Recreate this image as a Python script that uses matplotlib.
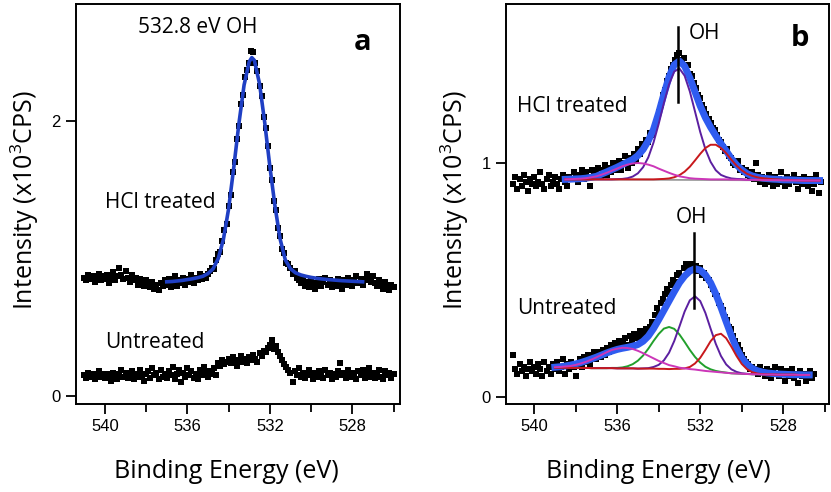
import numpy as np
import matplotlib.pyplot as plt

plt.rcParams['font.family'] = ['Open Sans', 'DejaVu Sans']
plt.rcParams['mathtext.fontset'] = 'custom'
plt.rcParams['mathtext.rm'] = 'Open Sans'
plt.rcParams['mathtext.it'] = 'Open Sans:italic'

# ---- O 1s spectra, 0.1 eV steps starting at 541.0 eV (descending) ----
step = 0.1
a_start = 541.0
a_hcl = [0.86, 0.84, 0.88, 0.85, 0.87, 0.83, 0.86, 0.89, 0.84, 0.87,
         0.85, 0.88, 0.82, 0.86, 0.90, 0.84, 0.87, 0.93, 0.88, 0.85,
         0.91, 0.86, 0.83, 0.88, 0.84, 0.86, 0.81, 0.85, 0.83, 0.80,
         0.84, 0.82, 0.79, 0.83, 0.78, 0.81, 0.77, 0.82, 0.80, 0.84,
         0.81, 0.85, 0.79, 0.83, 0.87, 0.80, 0.84, 0.82, 0.86, 0.81,
         0.85, 0.83, 0.88, 0.82, 0.86, 0.84, 0.89, 0.85, 0.87, 0.86,
         0.89, 0.91, 0.93, 0.92, 0.99, 1.03, 1.05, 1.13, 1.21, 1.25,
         1.38, 1.46, 1.63, 1.70, 1.87, 1.96, 2.12, 2.19, 2.32, 2.37,
         2.42, 2.51, 2.50, 2.42, 2.36, 2.25, 2.18, 2.03, 1.95, 1.82,
         1.66, 1.57, 1.42, 1.35, 1.22, 1.16, 1.07, 1.04, 0.97, 0.96,
         0.93, 0.89, 0.91, 0.86, 0.84, 0.82, 0.85, 0.80, 0.83, 0.79,
         0.84, 0.81, 0.78, 0.82, 0.85, 0.80, 0.83, 0.86, 0.81, 0.84,
         0.79, 0.83, 0.80, 0.85, 0.82, 0.78, 0.84, 0.81, 0.86, 0.83,
         0.80, 0.84, 0.87, 0.82, 0.85, 0.81, 0.84, 0.89, 0.86, 0.83,
         0.87, 0.82, 0.80, 0.84, 0.81, 0.78, 0.83, 0.80, 0.77, 0.81,
         0.79]
a_untr = [0.15, 0.13, 0.17, 0.14, 0.16, 0.12, 0.15, 0.18, 0.14, 0.16,
          0.13, 0.16, 0.14, 0.11, 0.17, 0.15, 0.12, 0.16, 0.19, 0.14,
          0.17, 0.13, 0.15, 0.18, 0.12, 0.16, 0.14, 0.19, 0.15, 0.11,
          0.16, 0.18, 0.13, 0.20, 0.15, 0.17, 0.12, 0.19, 0.14, 0.16,
          0.13, 0.18, 0.15, 0.21, 0.12, 0.16, 0.19, 0.10, 0.17, 0.14,
          0.20, 0.15, 0.18, 0.13, 0.16, 0.12, 0.19, 0.15, 0.21, 0.17,
          0.14, 0.18, 0.16, 0.20, 0.15, 0.24, 0.22, 0.26, 0.23, 0.25,
          0.27, 0.24, 0.28, 0.25, 0.22, 0.26, 0.29, 0.25, 0.27, 0.24,
          0.28, 0.26, 0.30, 0.27, 0.25, 0.31, 0.29, 0.33, 0.32, 0.35,
          0.37, 0.41, 0.34, 0.36, 0.32, 0.29, 0.26, 0.23, 0.21, 0.19,
          0.17, 0.10, 0.18, 0.15, 0.20, 0.14, 0.17, 0.13, 0.16, 0.19,
          0.15, 0.12, 0.17, 0.14, 0.18, 0.16, 0.13, 0.19, 0.15, 0.17,
          0.12, 0.16, 0.14, 0.18, 0.24, 0.15, 0.17, 0.13, 0.19, 0.16,
          0.14, 0.17, 0.12, 0.18, 0.15, 0.19, 0.13, 0.16, 0.20, 0.14,
          0.17, 0.13, 0.16, 0.19, 0.14, 0.12, 0.18, 0.15, 0.17, 0.13,
          0.16]

b_start = 541.0
b_hcl = [0.91, 0.94, 0.89, 0.93, 0.90, 0.95, 0.92, 0.88, 0.93, 0.91,
         0.94, 0.90, 0.92, 0.96, 0.91, 0.89, 0.93, 0.95, 0.90, 0.92,
         0.94, 0.91, 0.89, 0.93, 0.95, 0.92, 0.90, 0.94, 0.93, 0.96,
         0.94, 0.92, 0.95, 0.97, 0.93, 0.96, 0.94, 0.90, 0.97, 0.95,
         0.96, 0.98, 0.94, 0.97, 0.99, 0.95, 0.98, 0.96, 1.00, 0.97,
         0.99, 1.01, 0.97, 1.00, 1.03, 0.98, 1.02, 1.00, 1.04, 1.01,
         1.06, 1.04, 1.08, 1.07, 1.10, 1.09, 1.13, 1.12, 1.16, 1.19,
         1.22, 1.25, 1.29, 1.31, 1.35, 1.37, 1.40, 1.42, 1.44, 1.46,
         1.47, 1.44, 1.45, 1.41, 1.42, 1.38, 1.37, 1.34, 1.32, 1.29,
         1.28, 1.25, 1.23, 1.21, 1.19, 1.17, 1.15, 1.14, 1.12, 1.10,
         1.09, 1.07, 1.05, 1.06, 1.03, 1.02, 1.00, 0.99, 1.01, 0.97,
         0.98, 0.96, 0.97, 0.95, 0.94, 0.96, 0.93, 1.00, 0.95, 0.92,
         0.94, 0.91, 0.93, 0.95, 0.92, 0.90, 0.94, 0.91, 0.93, 0.96,
         0.92, 0.90, 0.94, 0.91, 0.93, 0.95, 0.92, 0.89, 0.93, 0.91,
         0.94, 0.92, 0.90, 0.93, 0.88, 0.91, 0.95, 0.87, 0.92]
b_untr = [0.18, 0.12, 0.10, 0.14, 0.11, 0.13, 0.09, 0.12, 0.15, 0.11,
          0.13, 0.10, 0.14, 0.12, 0.09, 0.15, 0.11, 0.13, 0.10, 0.14,
          0.12, 0.15, 0.11, 0.13, 0.16, 0.10, 0.14, 0.12, 0.15, 0.13,
          0.09, 0.14, 0.16, 0.13, 0.17, 0.15, 0.18, 0.14, 0.17, 0.19,
          0.16, 0.19, 0.17, 0.20, 0.18, 0.21, 0.19, 0.22, 0.20, 0.23,
          0.21, 0.24, 0.22, 0.23, 0.25, 0.22, 0.26, 0.24, 0.27, 0.25,
          0.26, 0.28, 0.25, 0.27, 0.29, 0.28, 0.30, 0.32, 0.35, 0.38,
          0.36, 0.40, 0.42, 0.44, 0.46, 0.45, 0.48, 0.50, 0.49, 0.52,
          0.53, 0.51, 0.55, 0.57, 0.54, 0.56, 0.57, 0.55, 0.56, 0.54,
          0.55, 0.52, 0.53, 0.51, 0.50, 0.48, 0.46, 0.44, 0.43, 0.40,
          0.39, 0.37, 0.34, 0.33, 0.30, 0.29, 0.26, 0.24, 0.22, 0.20,
          0.18, 0.16, 0.15, 0.14, 0.12, 0.13, 0.11, 0.12, 0.10, 0.13,
          0.11, 0.09, 0.12, 0.10, 0.08, 0.11, 0.13, 0.10, 0.09, 0.12,
          0.10, 0.07, 0.11, 0.09, 0.12, 0.08, 0.10, 0.06, 0.11, 0.09,
          0.10, 0.07, 0.09, 0.11, 0.08, 0.10]

# ---- fitted curves ----
fit_a_x = [537.0, 536.75, 536.5, 536.25, 536.0, 535.75, 535.5, 535.25, 535.0, 534.75,
           534.5, 534.25, 534.0, 533.75, 533.5, 533.25, 533.0, 532.875, 532.75, 532.5,
           532.25, 532.0, 531.75, 531.5, 531.25, 531.0, 530.75, 530.5, 530.25, 530.0,
           529.75, 529.5, 529.25, 529.0, 528.75, 528.5, 528.25, 528.0, 527.75, 527.5]
fit_a_y = [0.83, 0.832, 0.836, 0.84, 0.846, 0.852, 0.86, 0.87, 0.89, 0.925,
           1.0, 1.14, 1.36, 1.66, 1.98, 2.26, 2.43, 2.46, 2.44, 2.27,
           1.99, 1.67, 1.38, 1.14, 0.99, 0.925, 0.895, 0.88, 0.87, 0.862,
           0.856, 0.851, 0.847, 0.844, 0.841, 0.838, 0.836, 0.834, 0.832, 0.83]

# panel b fits, 0.25 eV steps
fit_step = 0.25
top_start = 538.5
top_env = [0.930, 0.931, 0.932, 0.933, 0.935, 0.939, 0.943, 0.953, 0.962, 0.972,
           0.982, 0.993, 1.004, 1.015, 1.032, 1.058, 1.095, 1.143, 1.214, 1.294,
           1.368, 1.420, 1.436, 1.414, 1.364, 1.304, 1.244, 1.194, 1.153, 1.117,
           1.083, 1.052, 1.019, 0.992, 0.971, 0.955, 0.945, 0.939, 0.935, 0.933,
           0.931, 0.930, 0.928, 0.928, 0.927, 0.926, 0.925, 0.925, 0.925, 0.925]
top_mag = [0.930, 0.931, 0.932, 0.933, 0.935, 0.939, 0.943, 0.950, 0.958, 0.967,
           0.976, 0.986, 0.993, 0.998, 1.000, 0.998, 0.993, 0.986, 0.976, 0.967,
           0.958, 0.950, 0.943, 0.939, 0.935, 0.933, 0.932, 0.931, 0.930, 0.930,
           0.930, 0.930, 0.929, 0.929, 0.929, 0.928, 0.928, 0.928, 0.927, 0.927,
           0.927, 0.927, 0.926, 0.926, 0.926, 0.926, 0.925, 0.925, 0.925, 0.925]
top_pur = [0.930, 0.930, 0.930, 0.930, 0.930, 0.930, 0.930, 0.930, 0.930, 0.930,
           0.931, 0.932, 0.935, 0.942, 0.956, 0.982, 1.024, 1.087, 1.167, 1.256,
           1.336, 1.391, 1.404, 1.373, 1.306, 1.220, 1.133, 1.059, 1.005, 0.969,
           0.949, 0.940, 0.934, 0.932, 0.931, 0.929, 0.928, 0.928, 0.927, 0.927,
           0.927, 0.927, 0.926, 0.926, 0.926, 0.926, 0.925, 0.925, 0.925, 0.925]
top_red = [0.930, 0.930, 0.930, 0.930, 0.930, 0.930, 0.930, 0.930, 0.930, 0.930,
           0.930, 0.930, 0.930, 0.930, 0.930, 0.930, 0.930, 0.930, 0.931, 0.932,
           0.934, 0.939, 0.948, 0.963, 0.984, 1.011, 1.039, 1.064, 1.078, 1.078,
           1.064, 1.042, 1.014, 0.989, 0.969, 0.954, 0.945, 0.939, 0.935, 0.933,
           0.931, 0.930, 0.928, 0.928, 0.927, 0.926, 0.925, 0.925, 0.925, 0.925]
top_base_x = [538.5, 526.25]
top_base_y = [0.930, 0.925]

bot_start = 539.0
bot_env = [0.127, 0.129, 0.132, 0.136, 0.141, 0.147, 0.154, 0.162, 0.170, 0.179,
           0.188, 0.196, 0.203, 0.208, 0.212, 0.217, 0.224, 0.238, 0.260, 0.292,
           0.330, 0.370, 0.410, 0.450, 0.488, 0.517, 0.538, 0.548, 0.542, 0.522,
           0.488, 0.440, 0.383, 0.322, 0.262, 0.208, 0.168, 0.140, 0.122, 0.112,
           0.106, 0.102, 0.100, 0.098, 0.097, 0.096, 0.095, 0.095, 0.094, 0.094]
bot_mag = [0.127, 0.128, 0.130, 0.132, 0.137, 0.143, 0.150, 0.159, 0.169, 0.180,
           0.191, 0.201, 0.206, 0.210, 0.209, 0.205, 0.197, 0.187, 0.176, 0.165,
           0.154, 0.145, 0.136, 0.131, 0.125, 0.122, 0.119, 0.117, 0.114, 0.111,
           0.109, 0.107, 0.105, 0.103, 0.101, 0.100, 0.099, 0.098, 0.097, 0.097,
           0.096, 0.096, 0.096, 0.095, 0.095, 0.095, 0.095, 0.094, 0.094, 0.094]
bot_grn = [0.125, 0.125, 0.125, 0.124, 0.124, 0.124, 0.124, 0.123, 0.123, 0.123,
           0.123, 0.124, 0.124, 0.126, 0.131, 0.140, 0.155, 0.177, 0.206, 0.239,
           0.269, 0.292, 0.299, 0.291, 0.267, 0.235, 0.201, 0.171, 0.147, 0.129,
           0.118, 0.111, 0.107, 0.104, 0.101, 0.100, 0.099, 0.098, 0.097, 0.097,
           0.096, 0.096, 0.096, 0.095, 0.095, 0.095, 0.095, 0.094, 0.094, 0.094]
bot_pur = [0.125, 0.125, 0.125, 0.124, 0.124, 0.124, 0.124, 0.123, 0.123, 0.123,
           0.123, 0.123, 0.122, 0.122, 0.122, 0.122, 0.121, 0.122, 0.123, 0.128,
           0.137, 0.156, 0.189, 0.239, 0.301, 0.365, 0.413, 0.430, 0.410, 0.359,
           0.292, 0.227, 0.175, 0.139, 0.118, 0.107, 0.101, 0.099, 0.097, 0.097,
           0.096, 0.096, 0.096, 0.095, 0.095, 0.095, 0.095, 0.094, 0.094, 0.094]
bot_red = [0.125, 0.125, 0.125, 0.124, 0.124, 0.124, 0.124, 0.123, 0.123, 0.123,
           0.123, 0.123, 0.122, 0.122, 0.122, 0.122, 0.121, 0.121, 0.121, 0.121,
           0.120, 0.120, 0.119, 0.120, 0.120, 0.122, 0.128, 0.143, 0.167, 0.201,
           0.238, 0.264, 0.270, 0.251, 0.215, 0.175, 0.141, 0.119, 0.106, 0.100,
           0.097, 0.096, 0.096, 0.095, 0.095, 0.095, 0.095, 0.094, 0.094, 0.094]

# OH marker positions (eV) and extents
oh_top = (533.06, 1.26, 1.58)
oh_bot = (532.29, 0.38, 0.70)

xticks = [540, 536, 532, 528]
xminor = [538, 534, 530, 526]


def energies(start, dx, n):
    return start - dx * np.arange(n)


def style_axes(ax, xlim, ylim, yticks):
    ax.set_xlim(*xlim)
    ax.set_ylim(*ylim)
    ax.set_xticks(xticks)
    ax.set_xticks(xminor, minor=True)
    ax.set_yticks(yticks)
    ax.tick_params(which='major', direction='out', length=7, width=1.3,
                   labelsize=12, top=False, right=False, pad=4)
    ax.tick_params(which='minor', direction='out', length=6, width=1.3,
                   top=False, right=False)
    for lab in ax.get_xticklabels() + ax.get_yticklabels():
        lab.set_family('Liberation Sans')
    for s in ax.spines.values():
        s.set_linewidth(1.4)
    ax.set_ylabel(r'Intensity (x10$^3$CPS)', fontsize=18)
    ax.yaxis.set_label_coords(-0.108, 0.51)


fig = plt.figure(figsize=(8.31, 4.92), dpi=100)
ax1 = fig.add_axes([0.0915, 0.179, 0.3895, 0.813])
ax2 = fig.add_axes([0.609, 0.179, 0.3885, 0.813])

mk = dict(ls='none', marker='s', ms=3.8, color='black', mew=0)

# ---- panel a ----
ax1.plot(energies(a_start, step, len(a_hcl)), a_hcl, **mk)
ax1.plot(energies(a_start, step, len(a_untr)), a_untr, **mk)
ax1.plot(fit_a_x, fit_a_y, color='#1f3fc4', lw=2.6, zorder=3)
style_axes(ax1, (541.4, 525.7), (-0.058, 2.85), [0, 2])
ax1.text(535.5, 2.68, '532.8 eV OH', fontsize=15, ha='center', va='center')
ax1.text(540.0, 1.41, 'HCl treated', fontsize=15, ha='left', va='center')
ax1.text(540.0, 0.39, 'Untreated', fontsize=15, ha='left', va='center')
ax1.text(527.5, 2.57, 'a', fontsize=21, fontweight='bold', ha='center', va='center')

# ---- panel b ----
ax2.plot(energies(b_start, step, len(b_hcl)), b_hcl, **mk)
ax2.plot(energies(b_start, step, len(b_untr)), b_untr, **mk)

xt = energies(top_start, fit_step, len(top_env))
ax2.plot(top_base_x, top_base_y, color='#9a9a9a', lw=1.3, zorder=3)
ax2.plot(xt, top_pur, color='#5b1fa0', lw=1.4, zorder=3)
ax2.plot(xt, top_red, color='#c8181c', lw=1.4, zorder=3)
ax2.plot(xt, top_mag, color='#cc36b8', lw=1.4, zorder=3)
ax2.plot(xt, top_env, color='#2f5cf0', lw=5, zorder=2.5)

xb = energies(bot_start, fit_step, len(bot_env))
ax2.plot(xb, bot_grn, color='#22a02c', lw=1.4, zorder=3)
ax2.plot(xb, bot_pur, color='#5b1fa0', lw=1.4, zorder=3)
ax2.plot(xb, bot_red, color='#c8181c', lw=1.4, zorder=3)
ax2.plot(xb, bot_mag, color='#cc36b8', lw=1.4, zorder=3)
ax2.plot(xb, bot_env, color='#2f5cf0', lw=5, zorder=2.5)

for x0, y0, y1 in (oh_top, oh_bot):
    ax2.plot([x0, x0], [y0, y1], color='black', lw=1.8, zorder=4)

style_axes(ax2, (541.35, 525.8), (-0.03, 1.68), [0, 1])
ax2.text(532.53, 1.555, 'OH', fontsize=15, ha='left', va='center')
ax2.text(533.2, 0.765, 'OH', fontsize=15, ha='left', va='center')
ax2.text(540.82, 1.24, 'HCl treated', fontsize=15, ha='left', va='center')
ax2.text(540.82, 0.38, 'Untreated', fontsize=15, ha='left', va='center')
ax2.text(527.18, 1.534, 'b', fontsize=21, fontweight='bold', ha='center', va='center')

fig.text(226 / 831, 1 - 471 / 492, 'Binding Energy (eV)', fontsize=18,
         ha='center', va='center')
fig.text(658 / 831, 1 - 471 / 492, 'Binding Energy (eV)', fontsize=18,
         ha='center', va='center')

fig.savefig('out.png', dpi=100)
